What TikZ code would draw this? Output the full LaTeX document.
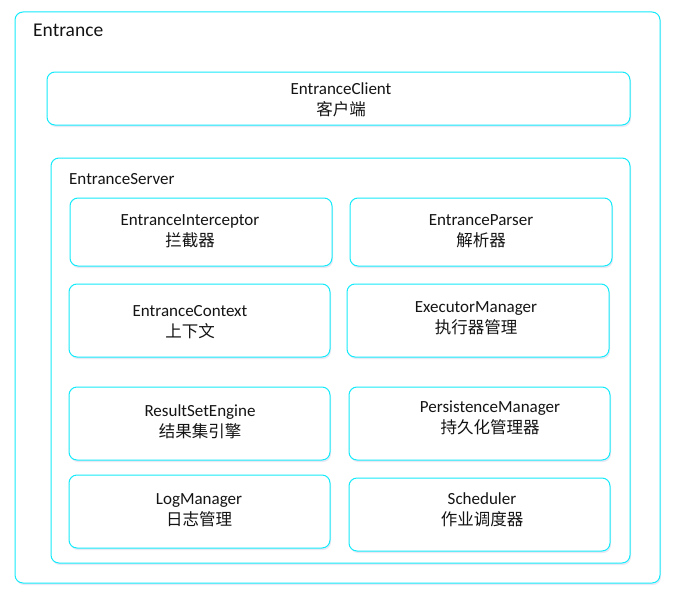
\documentclass[tikz,border=0pt]{standalone}
\usepackage{fontspec}
\setmainfont{Carlito}
\newfontfamily\cjk{Noto Sans CJK SC}
\usetikzlibrary{shadows}
\definecolor{bordercyan}{RGB}{20,235,250}
\definecolor{txt}{RGB}{20,20,20}
\newcommand{\zh}[1]{{\cjk\fontsize{16.5}{21}\selectfont #1}}
\tikzset{
  frame/.style={draw=bordercyan, line width=1pt, rounded corners=8pt, fill=white,
    drop shadow={shadow xshift=1pt, shadow yshift=-2pt, opacity=0.12, fill=blue!40!gray}},
  lbl/.style={text=txt, align=center, font=\fontsize{17}{21}\selectfont, inner sep=0pt},
  ttl/.style={text=txt, anchor=west, inner sep=0pt},
}
\begin{document}
\begin{tikzpicture}[x=1pt,y=-1pt]
\useasboundingbox (0,0) rectangle (690,602);
% outer
\path[frame] (15,12) rectangle (660,583);
\node[ttl, font=\fontsize{19.5}{22}\selectfont] (entr) at (33,30) {Entrance};
% client
\path[frame] (47,72) rectangle (630,125);
\node[lbl] (client) at (341,100) {EntranceClient\\\zh{客户端}};
% server
\path[frame] (51,158) rectangle (630,563);
\node[ttl, font=\fontsize{17}{20}\selectfont] (server) at (69,179) {EntranceServer};
% inner boxes
\path[frame] (70,198) rectangle (332,266);
\node[lbl] (interceptor) at (190,231) {EntranceInterceptor\\\zh{拦截器}};
\path[frame] (350,198) rectangle (612,266);
\node[lbl] (parser) at (481,231) {EntranceParser\\\zh{解析器}};
\path[frame] (69,284) rectangle (330,357);
\node[lbl] (context) at (190,322) {EntranceContext\\\zh{上下文}};
\path[frame] (347,284) rectangle (609,357);
\node[lbl] (executor) at (476,318) {ExecutorManager\\\zh{执行器管理}};
\path[frame] (69,387) rectangle (330,460);
\node[lbl] (resultset) at (200,422) {ResultSetEngine\\\zh{结果集引擎}};
\path[frame] (349,387) rectangle (610,460);
\node[lbl] (persistence) at (490,418) {PersistenceManager\\\zh{持久化管理器}};
\path[frame] (69,475) rectangle (330,548);
\node[lbl] (logmgr) at (199,510) {LogManager\\\zh{日志管理}};
\path[frame] (349,478) rectangle (610,551);
\node[lbl] (scheduler) at (482,510) {Scheduler\\\zh{作业调度器}};
\end{tikzpicture}
\end{document}
